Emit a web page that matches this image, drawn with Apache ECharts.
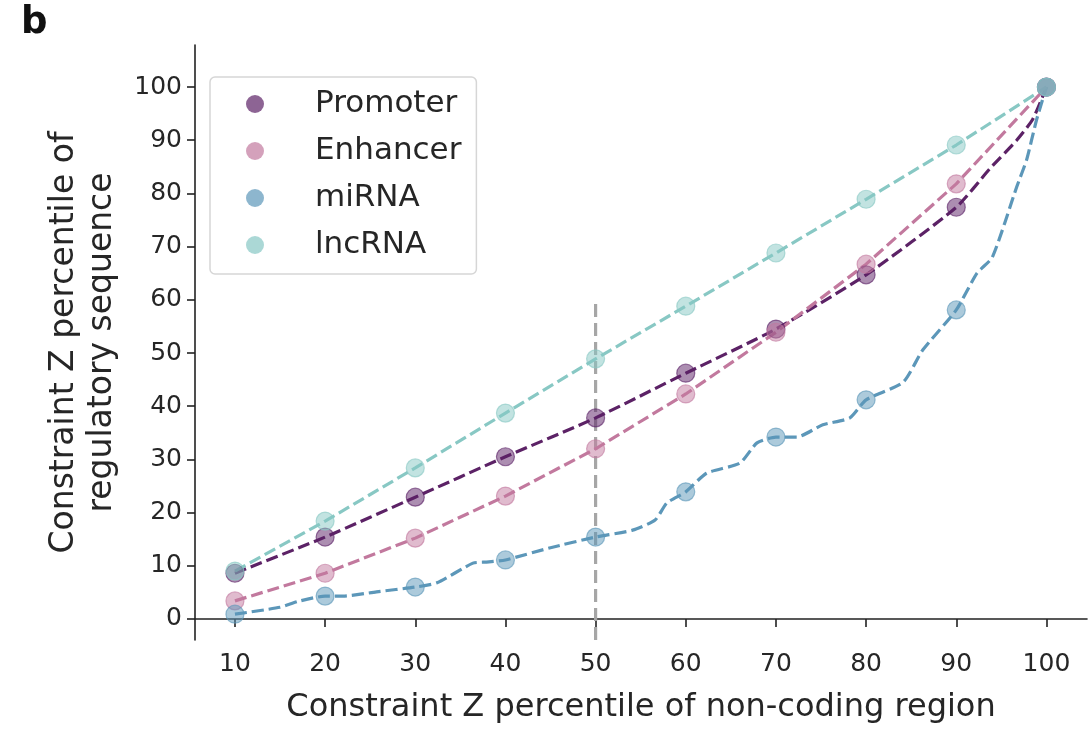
<!DOCTYPE html>
<html>
<head>
<meta charset="utf-8">
<script src="https://cdn.jsdelivr.net/npm/echarts@6/dist/echarts.min.js"></script>
<style>
	html, body { margin: 0; padding: 0; background: #fff; }
	#chart-container { width: 1091px; height: 733px; }
</style>
</head>
<body>
<div id="chart-container"></div>
<script>
// percentile bins (x) where markers sit
const pctl = [10, 20, 30, 40, 50, 60, 70, 80, 90, 100];
const tickX = [10, 20, 30, 40, 50, 60, 70, 80, 90, 100];
const tickY = [0, 10, 20, 30, 40, 50, 60, 70, 80, 90, 100];

// marker values
const promoter = [8.6, 15.4, 22.9, 30.5, 37.8, 46.2, 54.5, 64.7, 77.4, 100];
const enhancer = [3.4, 8.6, 15.2, 23.1, 32.0, 42.3, 53.9, 66.7, 81.8, 100];
const mirna = [0.9, 4.3, 6.0, 11.1, 15.4, 23.9, 34.2, 41.2, 58.1, 100];
const lncrna = [9.0, 18.4, 28.4, 38.7, 48.9, 58.8, 68.8, 78.9, 89.1, 100];

// dashed curves (finer sampling where the line bends between markers)
const promoterCurve = [
	[10, 8.6], [20, 15.4], [30, 22.9], [40, 30.5], [50, 37.8], [60, 46.2],
	[70, 54.5], [80, 64.7], [90, 77.4], [93.7, 84.6], [96.7, 90.0], [98.5, 94.0], [100, 100],
];
const enhancerCurve = [
	[10, 3.4], [20, 8.6], [30, 15.2], [40, 23.1], [50, 32.0], [60, 42.3],
	[70, 53.9], [80, 66.7], [90, 81.8], [100, 100],
];
const mirnaCurve = [
	[10, 0.9], [15, 2.2], [17, 3.3], [20, 4.3], [22, 4.3], [25.7, 5.1], [30, 6.0],
	[32.4, 6.8], [36.4, 10.5], [37.9, 10.7], [40, 11.1], [45, 13.4], [50, 15.4],
	[54.1, 16.7], [56.6, 18.6], [57.9, 21.8], [60, 23.9], [62.3, 27.4], [66, 29.3],
	[67.9, 33.1], [70, 34.2], [72.3, 34.2], [75.2, 36.5], [78.2, 37.8], [80, 41.2],
	[84.1, 44.5], [86.3, 50.6], [90, 58.1], [92.3, 65.0], [94, 68.0], [96.7, 81.2],
	[97.8, 86.3], [98.9, 93.8], [100, 100],
];
const lncrnaCurve = [
	[10, 9.0], [20, 18.4], [30, 28.4], [40, 38.7], [50, 48.9], [60, 58.8],
	[70, 68.8], [80, 78.9], [90, 89.1], [100, 100],
];
const cutoffLine = [[50, -3.95], [50, 60]];

const names = ['Promoter', 'Enhancer', 'miRNA', 'lncRNA'];
const rgb = {
	Promoter: '92,34,102',
	Enhancer: '194,121,158',
	miRNA: '92,151,185',
	lncRNA: '136,200,196',
};
const markerVals = { Promoter: promoter, Enhancer: enhancer, miRNA: mirna, lncRNA: lncrna };
const curves = { Promoter: promoterCurve, Enhancer: enhancerCurve, miRNA: mirnaCurve, lncRNA: lncrnaCurve };

let dom = document.getElementById('chart-container');
let myChart = echarts.init(dom, null, { renderer: 'canvas' });

const font = 'DejaVu Sans';
const ink = '#262626';

let series = [
	{
		name: 'cutoff',
		type: 'line',
		data: cutoffLine,
		symbol: 'none',
		silent: true,
		lineStyle: { color: '#a6a6a6', width: 3.2, type: [13, 6] },
		z: 1,
	},
];
names.forEach(function (n) {
	series.push({
		name: n,
		type: 'line',
		data: curves[n],
		symbol: 'none',
		smooth: n === 'lncRNA' || n === 'Enhancer' ? false : 0.2,
		lineStyle: { color: 'rgb(' + rgb[n] + ')', width: 3.2, type: [12, 5] },
		z: 2,
	});
});
names.forEach(function (n) {
	series.push({
		name: n,
		type: 'scatter',
		data: pctl.map(function (x, i) { return [x, markerVals[n][i]]; }),
		symbol: 'circle',
		symbolSize: 18,
		itemStyle: {
			color: 'rgba(' + rgb[n] + ',0.64)',
			borderColor: 'rgba(' + rgb[n] + ',0.78)',
			borderWidth: 1.2,
		},
		z: 3,
	});
});

let option = {
	animation: false,
	backgroundColor: '#fff',
	graphic: [
		{
			type: 'text',
			left: 21,
			top: 5,
			style: { text: 'b', font: 'bold 37px "DejaVu Sans"', fill: '#111' },
		},
	],
	legend: {
		orient: 'vertical',
		left: 210,
		top: 77,
		padding: [9, 15, 11, 36],
		itemGap: 11,
		itemWidth: 18,
		itemHeight: 18,
		borderColor: '#d6d6d6',
		borderWidth: 1.5,
		borderRadius: 5,
		backgroundColor: '#fff',
		textStyle: {
			fontFamily: font,
			fontSize: 31,
			color: ink,
			lineHeight: 36,
			padding: [0, 0, 0, 46],
		},
		data: names.map(function (n) {
			return {
				name: n,
				icon: 'circle',
				itemStyle: { color: 'rgba(' + rgb[n] + ',0.7)', borderWidth: 0 },
			};
		}),
	},
	grid: { left: 195, right: 4, top: 45, bottom: 93 },
	xAxis: {
		type: 'value',
		min: 5.57,
		max: 104.5,
		name: 'Constraint Z percentile of non-coding region',
		nameLocation: 'middle',
		nameGap: 52,
		nameTextStyle: { fontFamily: font, fontSize: 32, color: ink },
		splitLine: { show: false },
		axisLine: { lineStyle: { color: '#222', width: 1.6 } },
		axisTick: { show: true, length: 8, customValues: tickX, lineStyle: { color: '#222', width: 1.6 } },
		axisLabel: { customValues: tickX, fontFamily: font, fontSize: 25, color: ink, margin: 12 },
	},
	yAxis: {
		type: 'value',
		min: -3.95,
		max: 107.9,
		name: 'Constraint Z percentile of\nregulatory sequence',
		nameLocation: 'middle',
		nameRotate: 90,
		nameGap: 74,
		nameTextStyle: { fontFamily: font, fontSize: 33, color: ink, lineHeight: 38 },
		splitLine: { show: false },
		axisLine: { lineStyle: { color: '#222', width: 1.6 } },
		axisTick: { show: true, length: 8, customValues: tickY, lineStyle: { color: '#222', width: 1.6 } },
		axisLabel: { customValues: tickY, fontFamily: font, fontSize: 25, color: ink, margin: 13 },
	},
	series: series,
};

myChart.setOption(option);
window.addEventListener('resize', myChart.resize);
</script>
</body>
</html>
